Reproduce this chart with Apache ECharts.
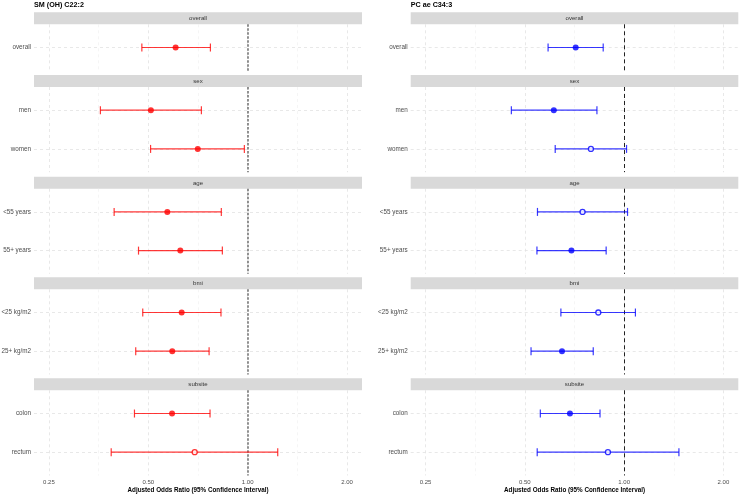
<!DOCTYPE html>
<html>
<head>
<meta charset="utf-8">
<script src="https://cdn.jsdelivr.net/npm/echarts@6/dist/echarts.min.js"></script>
<style>html,body{margin:0;padding:0;background:#fff}#c{width:740px;height:495px}</style>
</head>
<body>
<div id="c"></div>
<script>
// ---- data ----
const panelTitles = ['SM (OH) C22:2', 'PC ae C34:3'];
const facets = ['overall', 'sex', 'age', 'bmi', 'subsite'];
const facetRows = [['overall'], ['men', 'women'], ['<55 years', '55+ years'], ['<25 kg/m2', '25+ kg/m2'], ['colon', 'rectum']];
// SM (OH) C22:2 (order: overall, men, women, <55, 55+, <25, 25+, colon, rectum)
const smEst  = [0.605, 0.509, 0.706, 0.571, 0.625, 0.631, 0.591, 0.590, 0.691];
const smLow  = [0.478, 0.358, 0.508, 0.394, 0.467, 0.481, 0.458, 0.454, 0.386];
const smHigh = [0.771, 0.724, 0.977, 0.832, 0.838, 0.830, 0.764, 0.769, 1.233];
const smSig  = [true, true, true, true, true, true, true, true, false];
// PC ae C34:3
const pcEst  = [0.713, 0.612, 0.793, 0.748, 0.692, 0.835, 0.648, 0.685, 0.893];
const pcLow  = [0.588, 0.455, 0.618, 0.546, 0.544, 0.643, 0.522, 0.557, 0.545];
const pcHigh = [0.864, 0.827, 1.017, 1.024, 0.882, 1.082, 0.806, 0.845, 1.466];
const pcSig  = [true, true, false, false, true, false, true, true, false];
const xTickValues = [0.25, 0.5, 1, 2];
const xTickLabels = ['0.25', '0.50', '1.00', '2.00'];
const xMinorValues = [0.3536, 0.7071, 1.4142];
const xAxisTitle = 'Adjusted Odds Ratio (95% Confidence Interval)';

// ---- layout ----
const FONT = 'Liberation Sans, Arial, Helvetica, sans-serif';
const sides = [
  { left: 34, width: 328, color: '#FF0000', line: 'rgba(255,0,0,0.78)', vline: { color: '#777', width: 1.6, type: [2.5, 1.5] },
    est: smEst, low: smLow, high: smHigh, sig: smSig },
  { left: 410.7, width: 327.6, color: '#0000FF', line: 'rgba(0,0,255,0.78)', vline: { color: '#222', width: 1, type: [4, 3] },
    est: pcEst, low: pcLow, high: pcHigh, sig: pcSig }
];
const stripTops = [12.3, 75, 176.7, 277.3, 378.3];
const stripH = 12;
const rowUnit = 38.7;

const l2 = Math.log2;
const grids = [], xAxes = [], yAxes = [], series = [], graphics = [], titles = [];

sides.forEach((sd, s) => {
  titles.push({
    text: panelTitles[s], left: sd.left, top: 1.5, padding: 0,
    textStyle: { fontFamily: FONT, fontSize: 7.2, fontWeight: 'bold', color: '#000' }
  });
  let idx = 0;
  facets.forEach((f, fi) => {
    const rows = facetRows[fi];
    const n = rows.length;
    const gi = grids.length;
    const top = stripTops[fi] + stripH;
    const height = rowUnit * (n - 1 + 1.2);
    grids.push({ left: sd.left, top: top, width: sd.width, height: height, containLabel: false, outerBoundsMode: 'none' });
    // strip
    graphics.push({
      type: 'rect', shape: { x: sd.left, y: stripTops[fi], width: sd.width, height: stripH },
      style: { fill: '#d9d9d9' }, z: 1
    });
    graphics.push({
      type: 'text', x: sd.left + sd.width / 2, y: stripTops[fi] + stripH / 2 + 0.5,
      style: { text: f, fill: '#333', font: '6.1px ' + FONT, align: 'center', verticalAlign: 'middle' }, z: 2
    });
    const isLast = fi === facets.length - 1;
    xAxes.push({
      type: 'value', gridIndex: gi, min: l2(0.25) - 0.15, max: l2(2) + 0.15,
      axisLine: { show: false },
      axisTick: { show: false, customValues: xTickValues.map(l2) },
      axisLabel: {
        show: isLast, customValues: xTickValues.map(l2), margin: 4,
        fontFamily: FONT, fontSize: 6, color: '#4d4d4d',
        formatter: v => xTickLabels[xTickValues.findIndex(t => Math.abs(l2(t) - v) < 1e-6)]
      },
      splitLine: { show: true, lineStyle: { color: '#e3e3e3', width: 0.8, type: [3, 3] } },
      name: isLast ? xAxisTitle : '', nameLocation: 'middle', nameGap: 12,
      nameTextStyle: { fontFamily: FONT, fontSize: 6.3, fontWeight: 'bold', color: '#000' }
    });
    const rowIdx = rows.map((_, i) => i);
    yAxes.push({
      type: 'value', gridIndex: gi, min: -0.6, max: n - 0.4, inverse: true,
      axisLine: { show: false },
      axisTick: { show: false, customValues: rowIdx },
      axisLabel: {
        customValues: rowIdx, margin: 3, fontFamily: FONT, fontSize: 6.3, color: '#4d4d4d',
        formatter: v => rows[Math.round(v)]
      },
      splitLine: { show: true, lineStyle: { color: '#e3e3e3', width: 0.8, type: [3, 3] } }
    });
    const ebData = [], ptData = [];
    rows.forEach((r, i) => {
      const k = idx + i;
      ebData.push([l2(sd.low[k]), i, l2(sd.high[k])]);
      ptData.push({
        value: [l2(sd.est[k]), i],
        symbolSize: sd.sig[k] ? 6 : 5,
        itemStyle: sd.sig[k] ? { color: sd.color } : { color: '#fff', borderColor: sd.color, borderWidth: 1.3 }
      });
    });
    idx += n;
    // minor grid + reference line
    series.push({
      type: 'line', xAxisIndex: gi, yAxisIndex: gi, data: [], z: 1, silent: true,
      markLine: {
        silent: true, symbol: 'none', label: { show: false }, z: 1, animation: false,
        data: xMinorValues.map(v => ({ xAxis: l2(v), lineStyle: { color: '#efefef', width: 0.6, type: [3, 3] } }))
          .concat([{ xAxis: 0, lineStyle: { color: sd.vline.color, width: sd.vline.width, type: sd.vline.type } }])
      }
    });
    series.push({
      type: 'custom', xAxisIndex: gi, yAxisIndex: gi, z: 3, silent: true,
      data: ebData,
      renderItem: (params, api) => {
        const p1 = api.coord([api.value(0), api.value(1)]);
        const p2 = api.coord([api.value(2), api.value(1)]);
        const st = { stroke: sd.line, lineWidth: 1.2 };
        const h = 4;
        return {
          type: 'group', children: [
            { type: 'line', shape: { x1: p1[0], y1: p1[1], x2: p2[0], y2: p2[1] }, style: st },
            { type: 'line', shape: { x1: p1[0], y1: p1[1] - h, x2: p1[0], y2: p1[1] + h }, style: st },
            { type: 'line', shape: { x1: p2[0], y1: p2[1] - h, x2: p2[0], y2: p2[1] + h }, style: st }
          ]
        };
      }
    });
    series.push({
      type: 'scatter', xAxisIndex: gi, yAxisIndex: gi, z: 4, silent: true,
      symbol: 'circle', symbolSize: 6, data: ptData
    });
  });
});

const chart = echarts.init(document.getElementById('c'), null, { renderer: 'canvas' });
chart.setOption({
  animation: false,
  backgroundColor: '#fff',
  title: titles,
  grid: grids,
  xAxis: xAxes,
  yAxis: yAxes,
  series: series,
  graphic: graphics
});
</script>
</body>
</html>
